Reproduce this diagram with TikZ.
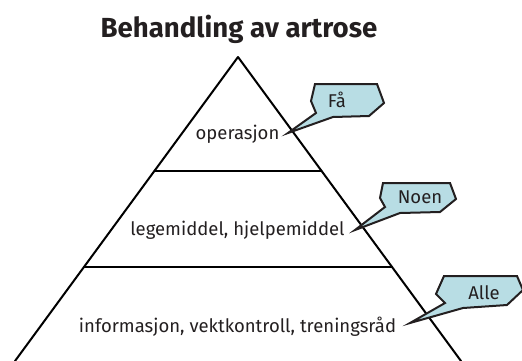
\documentclass[tikz,border=0pt]{standalone}
\usepackage{fontspec}
\setmainfont{Fira Sans}
\definecolor{ink}{HTML}{231F20}
\definecolor{bubble}{HTML}{B8DDE4}
\begin{document}
\begin{tikzpicture}[x=1pt,y=-1pt,
  edge/.style={draw=black,line width=2pt,line cap=round,line join=round},
  callout/.style={draw=ink,fill=bubble,line width=2pt,line join=miter},
  tier/.style={text=ink,font=\fontsize{18.5}{20}\selectfont,inner sep=0pt},
  ctext/.style={text=ink,font=\fontsize{18.5}{20}\selectfont,inner sep=0pt},
  title/.style={text=ink,font=\bfseries\fontsize{27.6}{30}\selectfont,inner sep=0pt}]
\useasboundingbox (0,0) rectangle (522,360);
% title
\node[title,anchor=base] (title) at (239,37) {Behandling av artrose};
% pyramid
\coordinate (apex) at (238,57);
\coordinate (bl) at (15,361);
\coordinate (br) at (461,361);
\coordinate (l1a) at (154.4,171);
\coordinate (l1b) at (321.6,171);
\coordinate (l2a) at (84,267);
\coordinate (l2b) at (392,267);
\draw[edge] (bl) -- (apex) -- (br);
\draw[edge] (l1a) -- (l1b);
\draw[edge] (l2a) -- (l2b);
% tier labels
\node[tier,anchor=base] (t1) at (237.5,139) {operasjon};
\node[tier,anchor=base] (t2) at (237.5,235) {legemiddel, hjelpemiddel};
\node[tier,anchor=base] (t3) at (237.5,332) {informasjon, vektkontroll, treningsråd};
% callouts
\filldraw[callout] (315,84) -- (377,84) -- (384,103) -- (369,116) -- (333,117) -- (288,133) -- (316,113) -- (311,101) -- cycle;
\node[ctext,anchor=base] (c1) at (337,107) {Få};
\filldraw[callout] (383,183) -- (450,183) -- (456,199) -- (440,212) -- (400,213) -- (355,230) -- (385,207) -- (380,198) -- cycle;
\node[ctext,anchor=base] (c2) at (420,203) {Noen};
\filldraw[callout] (444,276) -- (517,276) -- (523,290) -- (507,305) -- (463,308) -- (410,323) -- (445,303) -- (436,294) -- cycle;
\node[ctext,anchor=base] (c3) at (484,299) {Alle};
\end{tikzpicture}
\end{document}
